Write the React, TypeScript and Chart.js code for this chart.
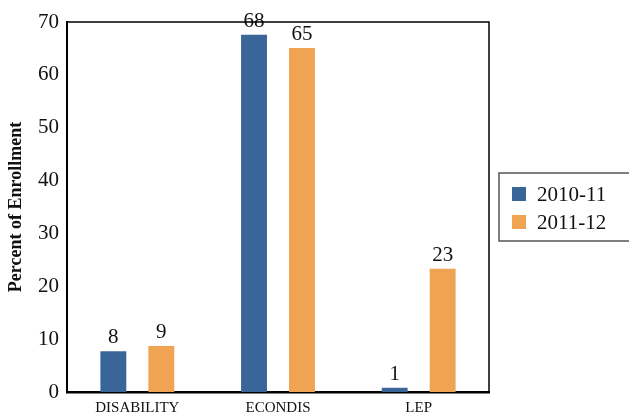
import React, { useEffect, useRef } from "react";
import { Chart, registerables } from "chart.js";

Chart.register(...registerables);

const categories = ["DISABILITY", "ECONDIS", "LEP"];
const seriesNames = ["2010-11", "2011-12"];
const values2010 = [7.7, 67.6, 0.8];
const values2011 = [8.7, 65.1, 23.3];
const yTicks = [0, 10, 20, 30, 40, 50, 60, 70];
const colors = ["#3A6599", "#F0A352"];

const SERIF = "'Liberation Serif', 'Times New Roman', serif";

const valueLabels = {
  id: "valueLabels",
  afterDatasetsDraw(chart: any) {
    const ctx = chart.ctx;
    ctx.save();
    ctx.font = `21px ${SERIF}`;
    ctx.fillStyle = "#111";
    ctx.textAlign = "center";
    ctx.textBaseline = "alphabetic";
    chart.data.datasets.forEach((ds: any, i: number) => {
      const meta = chart.getDatasetMeta(i);
      meta.data.forEach((el: any, j: number) => {
        ctx.fillText(String(Math.round(ds.data[j])), el.x, el.y - 8);
      });
    });
    ctx.restore();
  },
};

const frameAndLegend = {
  id: "frameAndLegend",
  afterDraw(chart: any) {
    const ctx = chart.ctx;
    const a = chart.chartArea;
    ctx.save();
    ctx.strokeStyle = "#000";
    ctx.lineWidth = 1.5;
    ctx.beginPath();
    ctx.moveTo(a.left, a.top);
    ctx.lineTo(a.right, a.top);
    ctx.lineTo(a.right, a.bottom);
    ctx.stroke();
    const bx = a.right + 10;
    const by = 173;
    ctx.strokeStyle = "#555";
    ctx.lineWidth = 1.5;
    ctx.strokeRect(bx, by, 140, 68);
    ctx.font = `21px ${SERIF}`;
    ctx.textBaseline = "middle";
    ctx.textAlign = "left";
    chart.data.datasets.forEach((ds: any, i: number) => {
      const cy = by + 21 + i * 28;
      ctx.fillStyle = ds.backgroundColor;
      ctx.fillRect(bx + 13, cy - 7, 14, 14);
      ctx.fillStyle = "#111";
      ctx.fillText(ds.label, bx + 38, cy + 1);
    });
    ctx.restore();
  },
};

export default function App() {
  const ref = useRef<HTMLCanvasElement>(null);
  useEffect(() => {
    if (!ref.current) return;
    const chart = new Chart(ref.current, {
      type: "bar",
      data: {
        labels: categories,
        datasets: [
          { label: seriesNames[0], data: values2010, backgroundColor: colors[0] },
          { label: seriesNames[1], data: values2011, backgroundColor: colors[1] },
        ],
      },
      options: {
        animation: false,
        responsive: true,
        maintainAspectRatio: false,
        devicePixelRatio: 1,
        layout: { padding: { top: 22, right: 140, left: 0, bottom: 0 } },
        datasets: { bar: { categoryPercentage: 0.682, barPercentage: 0.54 } },
        plugins: { legend: { display: false }, tooltip: { enabled: false } },
        scales: {
          x: {
            grid: { display: false, drawTicks: false },
            border: { color: "#000", width: 2.5 },
            ticks: { color: "#111", font: { family: SERIF, size: 15 }, padding: 7 },
            afterFit: (s: any) => { s.height = 24; },
          },
          y: {
            min: 0,
            max: 70,
            afterBuildTicks: (s: any) => { s.ticks = yTicks.map((v) => ({ value: v })); },
            grid: { display: false, drawTicks: false },
            border: { color: "#000", width: 2 },
            ticks: { color: "#111", font: { family: SERIF, size: 21 }, padding: 8 },
            title: {
              display: true,
              text: "Percent of Enrollment",
              color: "#111",
              font: { family: SERIF, size: 18, weight: "bold" },
              padding: { top: 6, bottom: 0 },
            },
            afterFit: (s: any) => { s.width = 67; },
          },
        },
      },
      plugins: [valueLabels, frameAndLegend],
    });
    return () => chart.destroy();
  }, []);
  return (
    <div style={{ position: "absolute", left: 0, top: 0, width: 629, height: 416, background: "#fff" }}>
      <canvas ref={ref} />
    </div>
  );
}
